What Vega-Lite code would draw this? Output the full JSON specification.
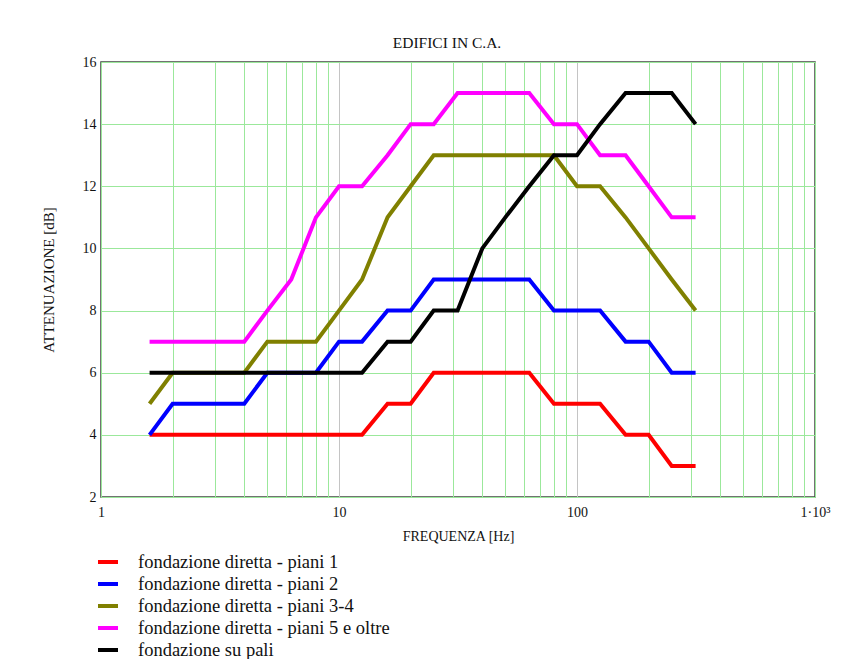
{
  "$schema": "https://vega.github.io/schema/vega-lite/v6.json",
  "width": 714,
  "height": 435,
  "autosize": "none",
  "padding": {"left": 101, "top": 62, "right": 37, "bottom": 162},
  "background": "white",
  "title": {"text": "EDIFICI IN C.A.", "font": "Liberation Serif", "fontSize": 15.5, "fontWeight": "normal", "color": "#111", "offset": 4, "dx": -11},
  "config": {
    "view": {"stroke": "#444", "strokeWidth": 1.5},
    "font": "Liberation Serif"
  },
  "data": {
    "values": [
      {"f": 1.6, "a": 4, "s": "fondazione diretta - piani 1"},
      {"f": 2, "a": 4, "s": "fondazione diretta - piani 1"},
      {"f": 2.5, "a": 4, "s": "fondazione diretta - piani 1"},
      {"f": 3.15, "a": 4, "s": "fondazione diretta - piani 1"},
      {"f": 4, "a": 4, "s": "fondazione diretta - piani 1"},
      {"f": 5, "a": 4, "s": "fondazione diretta - piani 1"},
      {"f": 6.3, "a": 4, "s": "fondazione diretta - piani 1"},
      {"f": 8, "a": 4, "s": "fondazione diretta - piani 1"},
      {"f": 10, "a": 4, "s": "fondazione diretta - piani 1"},
      {"f": 12.5, "a": 4, "s": "fondazione diretta - piani 1"},
      {"f": 16, "a": 5, "s": "fondazione diretta - piani 1"},
      {"f": 20, "a": 5, "s": "fondazione diretta - piani 1"},
      {"f": 25, "a": 6, "s": "fondazione diretta - piani 1"},
      {"f": 31.5, "a": 6, "s": "fondazione diretta - piani 1"},
      {"f": 40, "a": 6, "s": "fondazione diretta - piani 1"},
      {"f": 50, "a": 6, "s": "fondazione diretta - piani 1"},
      {"f": 63, "a": 6, "s": "fondazione diretta - piani 1"},
      {"f": 80, "a": 5, "s": "fondazione diretta - piani 1"},
      {"f": 100, "a": 5, "s": "fondazione diretta - piani 1"},
      {"f": 125, "a": 5, "s": "fondazione diretta - piani 1"},
      {"f": 160, "a": 4, "s": "fondazione diretta - piani 1"},
      {"f": 200, "a": 4, "s": "fondazione diretta - piani 1"},
      {"f": 250, "a": 3, "s": "fondazione diretta - piani 1"},
      {"f": 315, "a": 3, "s": "fondazione diretta - piani 1"},

      {"f": 1.6, "a": 4, "s": "fondazione diretta - piani 2"},
      {"f": 2, "a": 5, "s": "fondazione diretta - piani 2"},
      {"f": 2.5, "a": 5, "s": "fondazione diretta - piani 2"},
      {"f": 3.15, "a": 5, "s": "fondazione diretta - piani 2"},
      {"f": 4, "a": 5, "s": "fondazione diretta - piani 2"},
      {"f": 5, "a": 6, "s": "fondazione diretta - piani 2"},
      {"f": 6.3, "a": 6, "s": "fondazione diretta - piani 2"},
      {"f": 8, "a": 6, "s": "fondazione diretta - piani 2"},
      {"f": 10, "a": 7, "s": "fondazione diretta - piani 2"},
      {"f": 12.5, "a": 7, "s": "fondazione diretta - piani 2"},
      {"f": 16, "a": 8, "s": "fondazione diretta - piani 2"},
      {"f": 20, "a": 8, "s": "fondazione diretta - piani 2"},
      {"f": 25, "a": 9, "s": "fondazione diretta - piani 2"},
      {"f": 31.5, "a": 9, "s": "fondazione diretta - piani 2"},
      {"f": 40, "a": 9, "s": "fondazione diretta - piani 2"},
      {"f": 50, "a": 9, "s": "fondazione diretta - piani 2"},
      {"f": 63, "a": 9, "s": "fondazione diretta - piani 2"},
      {"f": 80, "a": 8, "s": "fondazione diretta - piani 2"},
      {"f": 100, "a": 8, "s": "fondazione diretta - piani 2"},
      {"f": 125, "a": 8, "s": "fondazione diretta - piani 2"},
      {"f": 160, "a": 7, "s": "fondazione diretta - piani 2"},
      {"f": 200, "a": 7, "s": "fondazione diretta - piani 2"},
      {"f": 250, "a": 6, "s": "fondazione diretta - piani 2"},
      {"f": 315, "a": 6, "s": "fondazione diretta - piani 2"},

      {"f": 1.6, "a": 5, "s": "fondazione diretta - piani 3-4"},
      {"f": 2, "a": 6, "s": "fondazione diretta - piani 3-4"},
      {"f": 2.5, "a": 6, "s": "fondazione diretta - piani 3-4"},
      {"f": 3.15, "a": 6, "s": "fondazione diretta - piani 3-4"},
      {"f": 4, "a": 6, "s": "fondazione diretta - piani 3-4"},
      {"f": 5, "a": 7, "s": "fondazione diretta - piani 3-4"},
      {"f": 6.3, "a": 7, "s": "fondazione diretta - piani 3-4"},
      {"f": 8, "a": 7, "s": "fondazione diretta - piani 3-4"},
      {"f": 10, "a": 8, "s": "fondazione diretta - piani 3-4"},
      {"f": 12.5, "a": 9, "s": "fondazione diretta - piani 3-4"},
      {"f": 16, "a": 11, "s": "fondazione diretta - piani 3-4"},
      {"f": 20, "a": 12, "s": "fondazione diretta - piani 3-4"},
      {"f": 25, "a": 13, "s": "fondazione diretta - piani 3-4"},
      {"f": 31.5, "a": 13, "s": "fondazione diretta - piani 3-4"},
      {"f": 40, "a": 13, "s": "fondazione diretta - piani 3-4"},
      {"f": 50, "a": 13, "s": "fondazione diretta - piani 3-4"},
      {"f": 63, "a": 13, "s": "fondazione diretta - piani 3-4"},
      {"f": 80, "a": 13, "s": "fondazione diretta - piani 3-4"},
      {"f": 100, "a": 12, "s": "fondazione diretta - piani 3-4"},
      {"f": 125, "a": 12, "s": "fondazione diretta - piani 3-4"},
      {"f": 160, "a": 11, "s": "fondazione diretta - piani 3-4"},
      {"f": 200, "a": 10, "s": "fondazione diretta - piani 3-4"},
      {"f": 250, "a": 9, "s": "fondazione diretta - piani 3-4"},
      {"f": 315, "a": 8, "s": "fondazione diretta - piani 3-4"},

      {"f": 1.6, "a": 7, "s": "fondazione diretta - piani 5 e oltre"},
      {"f": 2, "a": 7, "s": "fondazione diretta - piani 5 e oltre"},
      {"f": 2.5, "a": 7, "s": "fondazione diretta - piani 5 e oltre"},
      {"f": 3.15, "a": 7, "s": "fondazione diretta - piani 5 e oltre"},
      {"f": 4, "a": 7, "s": "fondazione diretta - piani 5 e oltre"},
      {"f": 5, "a": 8, "s": "fondazione diretta - piani 5 e oltre"},
      {"f": 6.3, "a": 9, "s": "fondazione diretta - piani 5 e oltre"},
      {"f": 8, "a": 11, "s": "fondazione diretta - piani 5 e oltre"},
      {"f": 10, "a": 12, "s": "fondazione diretta - piani 5 e oltre"},
      {"f": 12.5, "a": 12, "s": "fondazione diretta - piani 5 e oltre"},
      {"f": 16, "a": 13, "s": "fondazione diretta - piani 5 e oltre"},
      {"f": 20, "a": 14, "s": "fondazione diretta - piani 5 e oltre"},
      {"f": 25, "a": 14, "s": "fondazione diretta - piani 5 e oltre"},
      {"f": 31.5, "a": 15, "s": "fondazione diretta - piani 5 e oltre"},
      {"f": 40, "a": 15, "s": "fondazione diretta - piani 5 e oltre"},
      {"f": 50, "a": 15, "s": "fondazione diretta - piani 5 e oltre"},
      {"f": 63, "a": 15, "s": "fondazione diretta - piani 5 e oltre"},
      {"f": 80, "a": 14, "s": "fondazione diretta - piani 5 e oltre"},
      {"f": 100, "a": 14, "s": "fondazione diretta - piani 5 e oltre"},
      {"f": 125, "a": 13, "s": "fondazione diretta - piani 5 e oltre"},
      {"f": 160, "a": 13, "s": "fondazione diretta - piani 5 e oltre"},
      {"f": 200, "a": 12, "s": "fondazione diretta - piani 5 e oltre"},
      {"f": 250, "a": 11, "s": "fondazione diretta - piani 5 e oltre"},
      {"f": 315, "a": 11, "s": "fondazione diretta - piani 5 e oltre"},

      {"f": 1.6, "a": 6, "s": "fondazione su pali"},
      {"f": 2, "a": 6, "s": "fondazione su pali"},
      {"f": 2.5, "a": 6, "s": "fondazione su pali"},
      {"f": 3.15, "a": 6, "s": "fondazione su pali"},
      {"f": 4, "a": 6, "s": "fondazione su pali"},
      {"f": 5, "a": 6, "s": "fondazione su pali"},
      {"f": 6.3, "a": 6, "s": "fondazione su pali"},
      {"f": 8, "a": 6, "s": "fondazione su pali"},
      {"f": 10, "a": 6, "s": "fondazione su pali"},
      {"f": 12.5, "a": 6, "s": "fondazione su pali"},
      {"f": 16, "a": 7, "s": "fondazione su pali"},
      {"f": 20, "a": 7, "s": "fondazione su pali"},
      {"f": 25, "a": 8, "s": "fondazione su pali"},
      {"f": 31.5, "a": 8, "s": "fondazione su pali"},
      {"f": 40, "a": 10, "s": "fondazione su pali"},
      {"f": 50, "a": 11, "s": "fondazione su pali"},
      {"f": 63, "a": 12, "s": "fondazione su pali"},
      {"f": 80, "a": 13, "s": "fondazione su pali"},
      {"f": 100, "a": 13, "s": "fondazione su pali"},
      {"f": 125, "a": 14, "s": "fondazione su pali"},
      {"f": 160, "a": 15, "s": "fondazione su pali"},
      {"f": 200, "a": 15, "s": "fondazione su pali"},
      {"f": 250, "a": 15, "s": "fondazione su pali"},
      {"f": 315, "a": 14, "s": "fondazione su pali"}
    ]
  },
  "mark": {"type": "line", "strokeWidth": 4, "clip": true},
  "encoding": {
    "x": {
      "field": "f",
      "type": "quantitative",
      "scale": {"type": "log", "domain": [1, 1000], "nice": false},
      "axis": {
        "title": "FREQUENZA [Hz]",
        "titleFont": "Liberation Serif",
        "titleFontSize": 14,
        "titleFontWeight": "normal",
        "titleColor": "#111",
        "titlePadding": 10,
        "values": [1, 2, 3, 4, 5, 6, 7, 8, 9, 10, 20, 30, 40, 50, 60, 70, 80, 90, 100, 200, 300, 400, 500, 600, 700, 800, 900, 1000],
        "labelExpr": "datum.value == 1 ? '1' : datum.value == 10 ? '10' : datum.value == 100 ? '100' : datum.value == 1000 ? '1·10³' : ''",
        "labelFont": "Liberation Serif",
        "labelFontSize": 14,
        "labelColor": "#111",
        "labelPadding": 8,
        "labelFlush": false,
        "labelOverlap": false,
        "ticks": false,
        "domain": false,
        "grid": true,
        "gridColor": {"condition": {"test": "datum.value == 10 || datum.value == 100", "value": "#c4c4c4"}, "value": "#9be89b"},
        "gridWidth": 1
      }
    },
    "y": {
      "field": "a",
      "type": "quantitative",
      "scale": {"domain": [2, 16], "nice": false, "zero": false},
      "axis": {
        "title": "ATTENUAZIONE [dB]",
        "titleFont": "Liberation Serif",
        "titleFontSize": 15,
        "titleFontWeight": "normal",
        "titleColor": "#111",
        "titlePadding": 26,
        "values": [2, 4, 6, 8, 10, 12, 14, 16],
        "labelFont": "Liberation Serif",
        "labelFontSize": 14,
        "labelColor": "#111",
        "labelPadding": 5,
        "labelFlush": false,
        "ticks": false,
        "domain": false,
        "grid": true,
        "gridColor": "#9be89b",
        "gridWidth": 1
      }
    },
    "color": {
      "field": "s",
      "type": "nominal",
      "scale": {
        "domain": ["fondazione diretta - piani 1", "fondazione diretta - piani 2", "fondazione diretta - piani 3-4", "fondazione diretta - piani 5 e oltre", "fondazione su pali"],
        "range": ["#ff0000", "#0000ff", "#808000", "#ff00ff", "#000000"]
      },
      "legend": {
        "title": null,
        "orient": "none",
        "legendX": -5,
        "legendY": 488,
        "symbolType": "stroke",
        "symbolSize": 400,
        "symbolStrokeWidth": 4,
        "labelFont": "Liberation Serif",
        "labelFontSize": 18.5,
        "labelColor": "#111",
        "labelOffset": 18,
        "rowPadding": -2,
        "labelLimit": 500
      }
    }
  }
}
